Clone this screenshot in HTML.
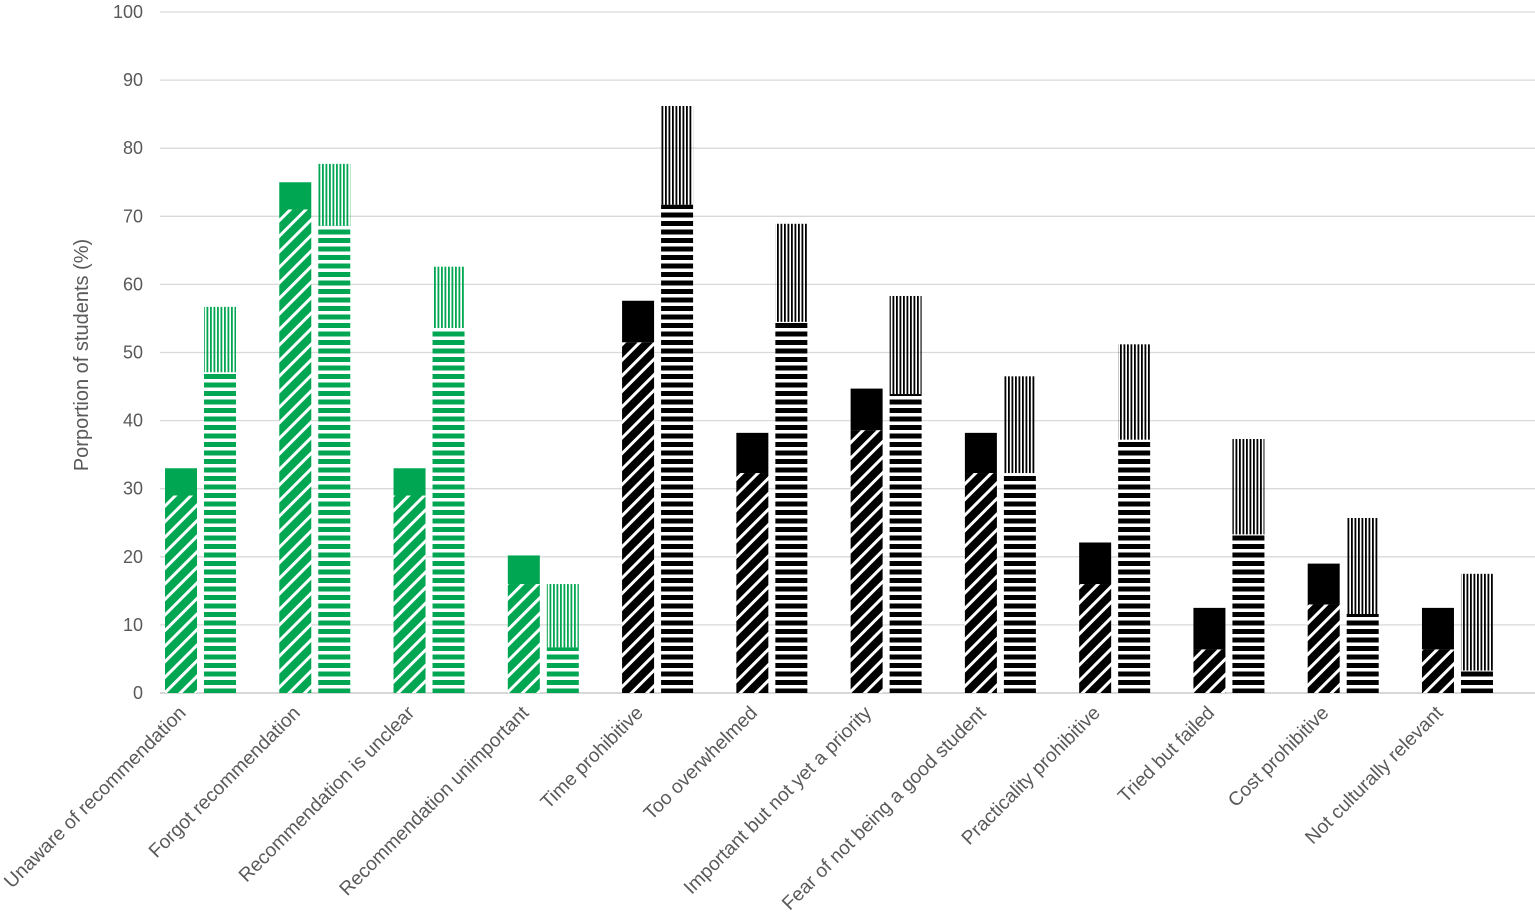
<!DOCTYPE html>
<html><head><meta charset="utf-8"><style>
html,body{margin:0;padding:0;background:#fff;}
svg{display:block;font-family:"Liberation Sans",sans-serif;}
</style></head><body>
<svg id="chart" width="1535" height="917">
<defs>
<pattern id="diagG" width="11" height="11" patternUnits="userSpaceOnUse" patternTransform="rotate(45)"><rect width="11" height="11" fill="#00a651"/><rect x="0" y="0" width="3" height="11" fill="#fff"/></pattern>
<pattern id="diagK" width="11" height="11" patternUnits="userSpaceOnUse" patternTransform="rotate(45)"><rect width="11" height="11" fill="#000"/><rect x="0" y="0" width="3" height="11" fill="#fff"/></pattern>
<pattern id="horG" width="8" height="8.5" patternUnits="userSpaceOnUse"><rect width="8" height="5" fill="#00a651"/></pattern>
<pattern id="horK" width="8" height="8.5" patternUnits="userSpaceOnUse"><rect width="8" height="5" fill="#000"/></pattern>
<pattern id="verG" width="3.5" height="8" patternUnits="userSpaceOnUse"><rect width="1.8" height="8" fill="#00a651"/></pattern>
<pattern id="verK" width="3.5" height="8" patternUnits="userSpaceOnUse"><rect width="1.8" height="8" fill="#000"/></pattern>
</defs>
<g id="grid"></g><g id="bars"></g><g id="labels"></g>
<text transform="translate(88,355) rotate(-90)" text-anchor="middle" font-size="20" fill="#595959">Porportion of students (%)</text>
</svg>
<script>
const categories=["Unaware of recommendation","Forgot recommendation","Recommendation is unclear","Recommendation unimportant","Time prohibitive","Too overwhelmed","Important but not yet a priority","Fear of not being a good student","Practicality prohibitive","Tried but failed","Cost prohibitive","Not culturally relevant"];
const leftBottom=[29,71,29,16,51.5,32.3,38.6,32.3,16,6.4,13,6.4];
const leftTotal=[33,75,33,20.2,57.6,38.2,44.7,38.2,22.1,12.5,19,12.5];
const rightBottom=[47.1,68.6,53.6,6.7,71.7,54.5,43.9,32.3,37.2,23.3,11.6,3.3];
const rightTotal=[56.7,77.7,62.6,16,86.2,68.9,58.3,46.5,51.2,37.3,25.7,17.5];
const greenFlags=[1,1,1,1,0,0,0,0,0,0,0,0];
const yTicks=[0,10,20,30,40,50,60,70,80,90,100];
const NS="http://www.w3.org/2000/svg";
const y=v=>693-v*6.81;
const xL=i=>165+i*114.27;
const BW=32;
function mk(tag,attrs,parent){const e=document.createElementNS(NS,tag);for(const k in attrs)e.setAttribute(k,attrs[k]);parent.appendChild(e);return e;}
const grid=document.getElementById('grid'),bars=document.getElementById('bars'),labels=document.getElementById('labels');
yTicks.forEach(t=>{
 const l=mk('line',{x1:160,x2:1535,y1:y(t),y2:y(t),stroke:t===0?'#bfbfbf':'#d9d9d9','stroke-width':1.3},grid);
 
 
 const tx=mk('text',{x:143,y:y(t)+6,'text-anchor':'end','font-size':18,fill:'#595959'},grid);
 tx.textContent=t;
 
 
});
categories.forEach((c,i)=>{
 const g=greenFlags[i]?'G':'K';
 const x0=xL(i),x1=x0+39;
 const r1=mk('rect',{x:x0,y:y(leftBottom[i]),width:BW,height:y(0)-y(leftBottom[i]),fill:'url(#diag'+g+')'},bars);
 
 
 const r2=mk('rect',{x:x0,y:y(leftTotal[i]),width:BW,height:y(leftBottom[i])-y(leftTotal[i]),fill:g==='G'?'#00a651':'#000'},bars);
 
 
 const r3=mk('rect',{x:x1,y:y(rightBottom[i]),width:BW,height:y(0)-y(rightBottom[i]),fill:'url(#hor'+g+')'},bars);
 
 
 const r4=mk('rect',{x:x1,y:y(rightTotal[i]),width:BW,height:y(rightBottom[i])-y(rightTotal[i]),fill:'url(#ver'+g+')'},bars);
 
 
 const t=mk('text',{transform:'translate('+(x0+22)+',714) rotate(-45)','text-anchor':'end','font-size':19.3,fill:'#595959'},labels);
 t.textContent=c;
 
 
});
</script>
</body></html>
